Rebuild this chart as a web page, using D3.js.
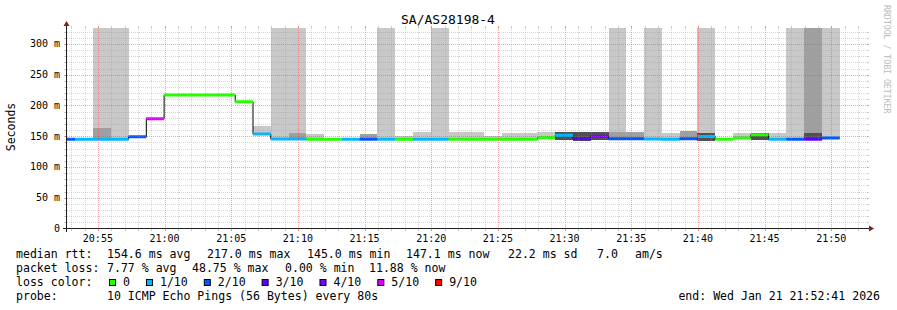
<!DOCTYPE html>
<html>
<head>
<meta charset="utf-8">
<script src="https://cdn.jsdelivr.net/npm/d3@7/dist/d3.min.js"></script>
<style>
  body { margin: 0; background: #fff; }
  text { font-family: "DejaVu Sans Mono", monospace; fill: #000; }
</style>
</head>
<body>
<svg id="chart" width="897" height="310"></svg>
<script>
// ---- data ----
const title = 'SA/AS28198-4';
const viewStart = '20:52:41';
const viewEnd = '21:52:41';

// rrd step boundaries, 80s apart (last one closes the final step)
const stepTimes = [
  '20:51:58', '20:53:18', '20:54:38', '20:55:58', '20:57:18', '20:58:38', '20:59:58', '21:01:18',
  '21:02:38', '21:03:58', '21:05:18', '21:06:38', '21:07:58', '21:09:18', '21:10:38', '21:11:58',
  '21:13:18', '21:14:38', '21:15:58', '21:17:18', '21:18:38', '21:19:58', '21:21:18', '21:22:38',
  '21:23:58', '21:25:18', '21:26:38', '21:27:58', '21:29:18', '21:30:38', '21:31:58', '21:33:18',
  '21:34:38', '21:35:58', '21:37:18', '21:38:38', '21:39:58', '21:41:18', '21:42:38', '21:43:58',
  '21:45:18', '21:46:38', '21:47:58', '21:49:18', '21:50:38'
];

// median rtt per step (ms)
const median = [
  145, 145, 145, 145, 149, 178.5, 217, 217, 217, 217,
  206, 153.5, 145.5, 145.5, 145, 145, 145, 145, 145, 145,
  145, 145, 145, 145, 145, 145, 145, 147.5, 151.5, 146,
  150, 146, 146, 145.5, 145, 146, 149.5, 145, 147, 152.5,
  145, 145, 145, 147
];

// lost pings out of 10 per step
const loss = [
  2, 1, 1, 1, 2, 5, 0, 0, 0, 0,
  0, 1, 1, 1, 0, 0, 1, 2, 1, 0,
  1, 1, 0, 0, 0, 0, 0, 0, 1, 3,
  4, 2, 2, 1, 1, 2, 1, 0, 0, 0,
  1, 2, 3, 2
];

// smoke bands [low, high] in ms (999 = beyond the graph top)
const smokeLight = [
  null, null, [145, 999], [145, 999], null, null, null, null, null, null,
  null, [153, 167], [145, 999], [145, 999], [145, 154], null, null, null, [145, 999], [145, 150],
  [145, 157], [145, 999], [145, 157], [145, 157], [145, 151], [145, 155], [145, 155], [147, 157], null, null,
  null, [145, 999], null, [145, 999], [145, 156], null, [145, 999], null, [146, 155], null,
  [145, 156], [145, 999], null, [147, 999]
];
const smokeMid = [
  null, null, [145, 164], null, null, null, null, null, null, null,
  null, null, null, [146, 155], null, null, null, [145, 154], null, null,
  null, null, null, null, null, null, null, null, null, null,
  null, [146, 157], [146, 157], null, null, [146, 158], null, null, null, null,
  null, null, [145, 999], null
];
const smokeDark = [
  null, null, null, null, null, null, null, null, null, null,
  null, null, null, null, null, null, null, null, null, null,
  null, null, null, null, null, null, null, null, [144, 157], [143, 157],
  [144, 157], null, null, null, null, null, [143, 156], null, null, [144, 156],
  null, null, [146, 156], null
];

const lossLevels = [0, 1, 2, 3, 4, 5, 9];
const lossLabels = ['0', '1/10', '2/10', '3/10', '4/10', '5/10', '9/10'];
const lossColors = ['#26ff00', '#00b8ff', '#0059ff', '#5e00ff', '#7e00ff', '#dd00ff', '#ff0000'];

const yMajor = [0, 50, 100, 150, 200, 250, 300];

const rttStats = ['median rtt:', '154.6 ms avg', '217.0 ms max', '145.0 ms min', '147.1 ms now', '22.2 ms sd', '7.0', 'am/s'];
const lossStats = ['packet loss:', '7.77 % avg', '48.75 % max', '0.00 % min', '11.88 % now'];
const probeText = ['probe:', '10 ICMP Echo Pings (56 Bytes) every 80s'];
const endText = 'end: Wed Jan 21 21:52:41 2026';

// ---- drawing ----
const parse = d3.timeParse('%H:%M:%S');
const times = stepTimes.map(parse);
const svg = d3.select('#chart');

const plotL = 67, plotR = 867, plotT = 28, plotB = 228.5;
const x = d3.scaleTime().domain([parse(viewStart), parse(viewEnd)]).range([plotL, plotR]);
const y = d3.scaleLinear().domain([0, 326]).range([plotB, plotT]);

svg.append('rect').attr('width', 897).attr('height', 310).attr('fill', '#fff');

svg.append('clipPath').attr('id', 'plot')
  .append('rect').attr('x', plotL).attr('y', plotT).attr('width', plotR - plotL).attr('height', plotB - plotT);

const g = svg.append('g').attr('clip-path', 'url(#plot)');

function smoke(bands, color) {
  g.append('g').attr('shape-rendering', 'crispEdges').selectAll('rect')
    .data(bands.map((b, i) => ({ b, i })).filter(d => d.b))
    .join('rect')
    .attr('x', d => x(times[d.i]))
    .attr('width', d => x(times[d.i + 1]) - x(times[d.i]))
    .attr('y', d => y(Math.min(d.b[1], 400)))
    .attr('height', d => y(d.b[0]) - y(Math.min(d.b[1], 400)))
    .attr('fill', color);
}
smoke(smokeLight, '#c8c8c8');
smoke(smokeMid, '#a0a0a0');
smoke(smokeDark, '#505050');

// black step line under the coloured median
const pts = median.map((m, i) => [times[i], m]).concat([[times[median.length], median[median.length - 1]]]);
g.append('path')
  .attr('d', d3.line().x(d => x(d[0])).y(d => y(d[1])).curve(d3.curveStepAfter)(pts))
  .attr('fill', 'none')
  .attr('stroke', '#000')
  .attr('stroke-width', 1);

g.append('g').selectAll('line')
  .data(median)
  .join('line')
  .attr('x1', (d, i) => x(times[i]))
  .attr('x2', (d, i) => x(times[i + 1]))
  .attr('y1', d => y(d))
  .attr('y2', d => y(d))
  .attr('stroke', (d, i) => lossColors[lossLevels.indexOf(loss[i])])
  .attr('stroke-width', 3);

// grid (rrdtool paints it on top, semi transparent)
const gridCol = 'rgba(150,150,150,0.38)';
const mgridCol = 'rgba(222,79,79,0.5)';
const grid = svg.append('g').attr('shape-rendering', 'crispEdges');

const yMinor = d3.range(0, 330, 10).filter(v => v % 50 !== 0);
const xMinor = d3.timeMinute.range(parse(viewStart), parse(viewEnd)).filter(t => t.getMinutes() % 5 !== 0);
const xMajor = x.ticks(d3.timeMinute.every(5));

function hgrid(vals, col) {
  vals.forEach(v => {
    const yy = Math.round(y(v)) + 0.5;
    grid.append('line').attr('x1', plotL - 2).attr('x2', plotR + 2).attr('y1', yy).attr('y2', yy)
      .attr('stroke', col).attr('stroke-dasharray', '1,1');
    grid.append('line').attr('x1', plotL - 3).attr('x2', plotL - 1).attr('y1', yy).attr('y2', yy).attr('stroke', col);
    grid.append('line').attr('x1', plotR).attr('x2', plotR + 2).attr('y1', yy).attr('y2', yy).attr('stroke', col);
  });
}
function vgrid(vals, col) {
  vals.forEach(t => {
    const xx = Math.round(x(t)) + 0.5;
    grid.append('line').attr('x1', xx).attr('x2', xx).attr('y1', plotT - 2).attr('y2', plotB + 2)
      .attr('stroke', col).attr('stroke-dasharray', '1,1');
    grid.append('line').attr('x1', xx).attr('x2', xx).attr('y1', plotB).attr('y2', plotB + 2).attr('stroke', col);
    grid.append('line').attr('x1', xx).attr('x2', xx).attr('y1', plotT - 2).attr('y2', plotT).attr('stroke', col);
  });
}
hgrid(yMinor, gridCol);
vgrid(xMinor, gridCol);
hgrid(yMajor.filter(v => v > 0), mgridCol);
vgrid(xMajor, mgridCol);

// axes
const axisCol = 'rgb(31,31,31)';
const arrowCol = 'rgb(128,31,31)';
svg.append('line').attr('x1', 63).attr('x2', 870).attr('y1', 228.5).attr('y2', 228.5).attr('stroke', axisCol);
svg.append('line').attr('x1', 66.5).attr('x2', 66.5).attr('y1', 232).attr('y2', 24).attr('stroke', axisCol);
svg.append('path').attr('d', 'M869,225.5L874,228.5L869,231.5Z').attr('fill', arrowCol);
svg.append('path').attr('d', 'M63.5,26L66.5,21L69.5,26Z').attr('fill', arrowCol);

// tick labels
svg.append('g').selectAll('text')
  .data(yMajor)
  .join('text')
  .attr('x', 60)
  .attr('y', d => y(d) + 3.5)
  .attr('text-anchor', 'end')
  .attr('font-size', 10)
  .text(d => d === 0 ? '0' : d + ' m');

svg.append('g').selectAll('text')
  .data(xMajor)
  .join('text')
  .attr('x', d => x(d))
  .attr('y', 241.5)
  .attr('text-anchor', 'middle')
  .attr('font-size', 10)
  .text(d3.timeFormat('%H:%M'));

// titles
svg.append('text').attr('x', 448).attr('y', 24).attr('text-anchor', 'middle')
  .attr('font-size', 13).text(title);
svg.append('text').attr('transform', 'translate(15,127) rotate(-90)').attr('text-anchor', 'middle')
  .attr('font-size', 11.5).text('Seconds');
svg.append('text').attr('transform', 'translate(884,5) rotate(90)')
  .attr('font-size', 8.2).style('fill', '#bbb').text('RRDTOOL / TOBI OETIKER');

// legend
const lg = svg.append('g').attr('font-size', 11.55).attr('xml:space', 'preserve');
const rttX = [16, 107, 207, 307, 406, 508, 597, 635];
rttStats.forEach((s, i) => lg.append('text').attr('x', rttX[i]).attr('y', 258).text(s));
const lossX = [16, 107, 192, 285, 369];
lossStats.forEach((s, i) => lg.append('text').attr('x', lossX[i]).attr('y', 272).text(s));

lg.append('text').attr('x', 16).attr('y', 286).text('loss color:');
let bx = 109;
lossLabels.forEach((lab, i) => {
  lg.append('rect').attr('x', bx + 0.5).attr('y', 279.5).attr('width', 6).attr('height', 6)
    .attr('fill', lossColors[i]).attr('stroke', '#000');
  lg.append('text').attr('x', bx + 14).attr('y', 286).text(lab);
  bx += 14 + lab.length * 6.96 + 16;
});

lg.append('text').attr('x', 16).attr('y', 300).text(probeText[0]);
lg.append('text').attr('x', 107).attr('y', 300).text(probeText[1]);
lg.append('text').attr('x', 880).attr('y', 300).attr('text-anchor', 'end').text(endText);
</script>
</body>
</html>
